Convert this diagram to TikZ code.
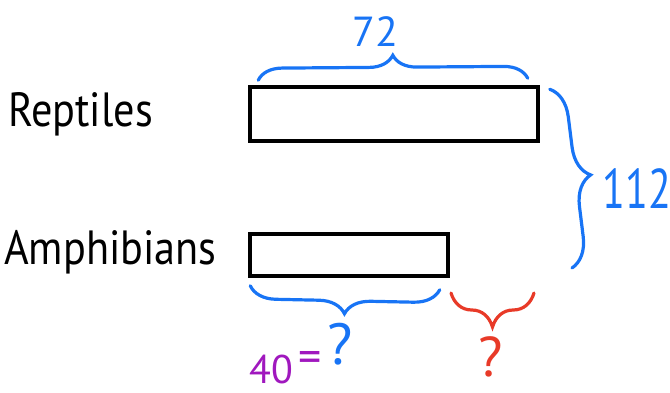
\documentclass[tikz,border=0pt]{standalone}
\usepackage{fontspec}
\setmainfont{PT Sans}
\usetikzlibrary{decorations.pathreplacing}
\definecolor{penblue}{RGB}{24,116,245}
\definecolor{penred}{RGB}{232,58,40}
\definecolor{penpurple}{RGB}{160,24,190}
\tikzset{
  bar/.style={draw=black, line width=3.5pt, fill=white, rectangle, inner sep=0pt},
  brc/.style={decorate, decoration={brace, amplitude=#1}, line width=3.2pt, line cap=round},
  lbl/.style={inner sep=0pt, text depth=0pt},
}
\begin{document}
\begin{tikzpicture}[x=1pt,y=-1pt]
\useasboundingbox (0,0) rectangle (670,393);
% labels
\node[lbl, anchor=base west, xscale=0.88, font=\fontsize{48}{48}\selectfont] (rept) at (8,127) {Reptiles};
\node[lbl, anchor=base west, xscale=0.88, font=\fontsize{48}{48}\selectfont] (amph) at (4,264) {Amphibians};
% bars
\node[bar, minimum width=288pt, minimum height=54pt] (rbar) at (394,114) {};
\node[bar, minimum width=198pt, minimum height=42pt] (abar) at (349,255) {};
% braces
\coordinate (t1) at ([xshift=10pt,yshift=5pt]rbar.north west);
\coordinate (t2) at ([xshift=-12pt,yshift=7pt]rbar.north east);
\draw[brc=24pt, penblue] (t1) -- (t2);
\node[lbl, anchor=base, text=penblue, font=\fontsize{42}{42}\selectfont] (n72) at (375,47) {72};
\coordinate (r1) at ([xshift=10pt,yshift=-4pt]rbar.north east);
\coordinate (r2) at (572,268);
\draw[brc=30pt, penblue] (r1) -- (r2);
\node[lbl, anchor=base, xscale=0.75, text=penblue, font=\fontsize{56}{56}\selectfont] (n112) at (637,208) {112};
\coordinate (b1) at ([xshift=-10pt,yshift=-12pt]abar.south east);
\coordinate (b2) at ([xshift=2pt,yshift=-8pt]abar.south west);
\draw[brc=26pt, penblue] (b1) -- (b2);
\node[lbl, anchor=base, text=penblue, font=\fontsize{58}{58}\selectfont] (qb) at (340,364) {?};
\coordinate (c1) at (534,293);
\coordinate (c2) at (451,293);
\draw[brc=34pt, penred] (c1) -- (c2);
\node[lbl, anchor=base, text=penred, font=\fontsize{56}{56}\selectfont] (qr) at (491,376) {?};
\node[lbl, text=penpurple, font=\fontsize{40}{40}\selectfont, anchor=base west] (n40) at (249,383) {40};
\node[lbl, text=penpurple, font=\fontsize{46}{46}\selectfont] (eq) at (310,362) {=};
\end{tikzpicture}
\end{document}
